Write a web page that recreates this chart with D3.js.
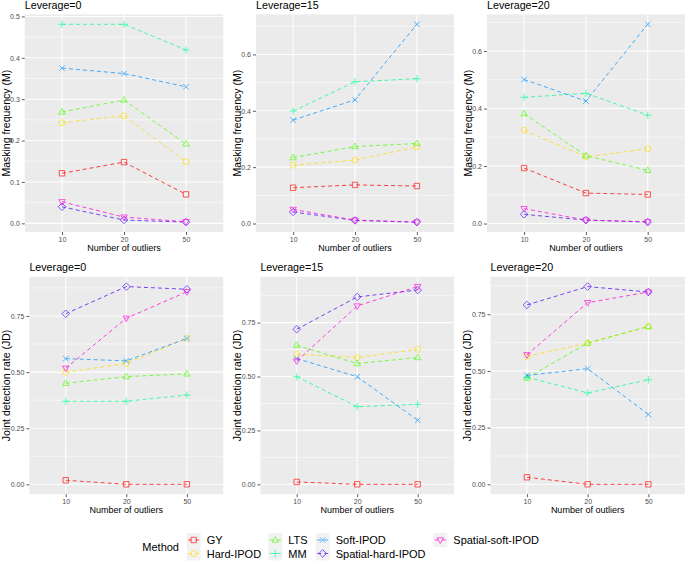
<!DOCTYPE html>
<html><head><meta charset="utf-8">
<script src="https://cdn.jsdelivr.net/npm/d3@7"></script>
<style>
html,body{margin:0;padding:0;background:#fff;}
svg{display:block;font-family:"Liberation Sans",Arial,Helvetica,sans-serif;}
</style></head>
<body><svg id="chart" width="685" height="561"></svg>
<script>
// ---------- data ----------
const methods = ["GY","Hard-IPOD","LTS","MM","Soft-IPOD","Spatial-hard-IPOD","Spatial-soft-IPOD"];
const colors = ["#FF0000","#FFDB00","#49FF00","#00FF92","#0092FF","#4900FF","#FF00DB"];
const shapes = [0,1,2,3,4,5,6];
const outliers = ["10","20","50"];
const leverageTitles = ["Leverage=0","Leverage=15","Leverage=20"];

// Masking frequency (M): rows = methods in order above, cols = outliers 10,20,50
const maskL0  = [[0.121,0.148,0.070],[0.243,0.260,0.149],[0.269,0.298,0.192],[0.481,0.481,0.419],[0.375,0.362,0.330],[0.040,0.008,0.003],[0.052,0.015,0.004]];
const maskL15 = [[0.127,0.137,0.133],[0.207,0.225,0.272],[0.234,0.273,0.284],[0.399,0.503,0.514],[0.367,0.439,0.707],[0.041,0.011,0.005],[0.050,0.012,0.005]];
const maskL20 = [[0.193,0.106,0.101],[0.325,0.232,0.260],[0.382,0.236,0.185],[0.439,0.453,0.377],[0.501,0.426,0.693],[0.032,0.012,0.005],[0.052,0.012,0.006]];
// Joint detection rate (JD)
const jdL0  = [[0.018,0.000,0.000],[0.499,0.539,0.650],[0.450,0.480,0.492],[0.370,0.370,0.398],[0.560,0.550,0.650],[0.760,0.881,0.869],[0.517,0.740,0.858]];
const jdL15 = [[0.011,0.000,0.000],[0.603,0.588,0.626],[0.645,0.560,0.588],[0.499,0.360,0.371],[0.583,0.499,0.297],[0.719,0.869,0.901],[0.572,0.827,0.917]];
const jdL20 = [[0.031,0.000,0.000],[0.564,0.623,0.696],[0.469,0.623,0.696],[0.472,0.403,0.461],[0.480,0.510,0.308],[0.791,0.872,0.848],[0.571,0.801,0.848]];

const maskTicks15 = [0,0.2,0.4,0.6];
const maskTicks0 = [0,0.1,0.2,0.3,0.4,0.5];
const jdTicks = [0,0.25,0.5,0.75];

const yTitles = ["Masking frequency (M)","Joint detection rate (JD)"];
const xTitle = "Number of outliers";
const legendTitle = "Method";

// ---------- layout ----------
const rowTop = [14.4, 276.7], rowBottom = [232, 494.2];
const colLeft = [[24.8,256,487],[29.4,260.4,490.5]];
const colRight = [223.2,454,684.8];
const yTitleOff = [18.6, 23.2];

const panels = [
  {r:0,c:0,data:maskL0, ticks:maskTicks0, fmt:d3.format(".1f")},
  {r:0,c:1,data:maskL15,ticks:maskTicks15,fmt:d3.format(".1f")},
  {r:0,c:2,data:maskL20,ticks:maskTicks15,fmt:d3.format(".1f")},
  {r:1,c:0,data:jdL0, ticks:jdTicks,fmt:d3.format(".2f")},
  {r:1,c:1,data:jdL15,ticks:jdTicks,fmt:d3.format(".2f")},
  {r:1,c:2,data:jdL20,ticks:jdTicks,fmt:d3.format(".2f")},
];

const svg = d3.select("#chart");
const S = 2.7;
function shapePath(k){
  const s=S;
  switch(k){
    case 0: return `M${-s},${-s}H${s}V${s}H${-s}Z`;
    case 1: { const r=s*1.1; return `M${r},0A${r},${r} 0 1,1 ${-r},0A${r},${r} 0 1,1 ${r},0Z`; }
    case 2: return `M0,${-s*1.3}L${s*1.2},${s*0.8}L${-s*1.2},${s*0.8}Z`;
    case 3: return `M${-s*1.35},0H${s*1.35}M0,${-s*1.35}V${s*1.35}`;
    case 4: return `M${-s},${-s}L${s},${s}M${-s},${s}L${s},${-s}`;
    case 5: return `M0,${-s*1.4}L${s*1.4},0L0,${s*1.4}L${-s*1.4},0Z`;
    case 6: return `M0,${s*1.3}L${s*1.2},${-s*0.8}L${-s*1.2},${-s*0.8}Z`;
  }
}

panels.forEach(p=>{
  const L = colLeft[p.r][p.c], R = colRight[p.c], T = rowTop[p.r], B = rowBottom[p.r];
  const x = d3.scalePoint().domain(outliers).range([L,R]).padding(0.6);
  const all = p.data.flat();
  const lo = d3.min(all), hi = d3.max(all), pad = (hi-lo)*0.05;
  const y = d3.scaleLinear().domain([lo-pad, hi+pad]).range([B,T]);
  const g = svg.append("g");
  g.append("rect").attr("x",L).attr("y",T).attr("width",R-L).attr("height",B-T).attr("fill","#EBEBEB");
  // minor grid
  const tk = p.ticks, step = tk[1]-tk[0];
  const minors = [];
  for(let v=tk[0]-step/2; v<=y.domain()[1]; v+=step){ if(v>=y.domain()[0]) minors.push(v); }
  g.selectAll(".mn").data(minors).join("line").attr("x1",L).attr("x2",R)
    .attr("y1",d=>y(d)).attr("y2",d=>y(d)).attr("stroke","#fff").attr("stroke-width",0.55);
  g.selectAll(".mj").data(tk).join("line").attr("x1",L).attr("x2",R)
    .attr("y1",d=>y(d)).attr("y2",d=>y(d)).attr("stroke","#fff").attr("stroke-width",1.07);
  g.selectAll(".vx").data(outliers).join("line").attr("x1",d=>x(d)).attr("x2",d=>x(d))
    .attr("y1",T).attr("y2",B).attr("stroke","#fff").attr("stroke-width",1.07);
  // axes
  const ya = d3.axisLeft(y).tickValues(tk).tickFormat(p.fmt).tickSize(3).tickPadding(2);
  const gy = g.append("g").attr("transform",`translate(${L},0)`).call(ya);
  const xa = d3.axisBottom(x).tickSize(3).tickPadding(2);
  const gx = g.append("g").attr("transform",`translate(0,${B})`).call(xa);
  [gy,gx].forEach(a=>{
    a.select(".domain").remove();
    a.selectAll(".tick line").attr("stroke","#333").attr("stroke-width",0.8);
    a.selectAll(".tick text").attr("fill","#4D4D4D").style("font-size","7px").style("font-family","Liberation Sans, Arial, sans-serif");
  });
  // titles
  g.append("text").attr("x",L).attr("y",T-5.8).text(leverageTitles[p.c]).style("font-size","10.7px").attr("fill","#000");
  g.append("text").attr("x",(L+R)/2).attr("y",B+19).attr("text-anchor","middle").text(xTitle).style("font-size","9px");
  g.append("text").attr("transform",`translate(${L-yTitleOff[p.r]},${(T+B)/2}) rotate(-90)`)
    .attr("text-anchor","middle").attr("dominant-baseline","central").text(yTitles[p.r]).style("font-size","10.5px");
  // series
  methods.forEach((m,i)=>{
    const sg = g.append("g").attr("opacity",0.72);
    const vals = p.data[i];
    const line = d3.line().x((d,j)=>x(outliers[j])).y(d=>y(d));
    sg.append("path").attr("d",line(vals)).attr("fill","none").attr("stroke",colors[i])
      .attr("stroke-width",1).attr("stroke-dasharray","4,3");
    sg.selectAll("path.pt").data(vals).join("path").attr("class","pt")
      .attr("transform",(d,j)=>`translate(${x(outliers[j])},${y(d)})`)
      .attr("d",shapePath(shapes[i])).attr("fill","none").attr("stroke",colors[i]).attr("stroke-width",0.9);
  });
});

// ---------- legend ----------
const legCols = [186.7,268.3,315.7,433.3];
const legRows = [540, 553.5];
const lg = svg.append("g");
lg.append("text").attr("x",179).attr("y",547).attr("text-anchor","end").attr("dominant-baseline","central")
  .text(legendTitle).style("font-size","11px");
methods.forEach((m,i)=>{
  const c = Math.floor(i/2), r = i%2;
  const kx = legCols[c], ky = legRows[r]-7;
  const k = lg.append("g");
  k.append("rect").attr("x",kx).attr("y",ky).attr("width",14).attr("height",14).attr("fill","#F2F2F2");
  const kk = k.append("g").attr("opacity",0.72);
  kk.append("line").attr("x1",kx+1.5).attr("x2",kx+12.5).attr("y1",ky+7).attr("y2",ky+7)
    .attr("stroke",colors[i]).attr("stroke-width",1).attr("stroke-dasharray","4,3");
  kk.append("path").attr("transform",`translate(${kx+7},${ky+7})`).attr("d",shapePath(shapes[i]))
    .attr("fill","none").attr("stroke",colors[i]).attr("stroke-width",0.9);
  k.append("text").attr("x",kx+20).attr("y",legRows[r]).attr("dominant-baseline","central")
    .text(m).style("font-size","11px");
});
</script></body></html>
